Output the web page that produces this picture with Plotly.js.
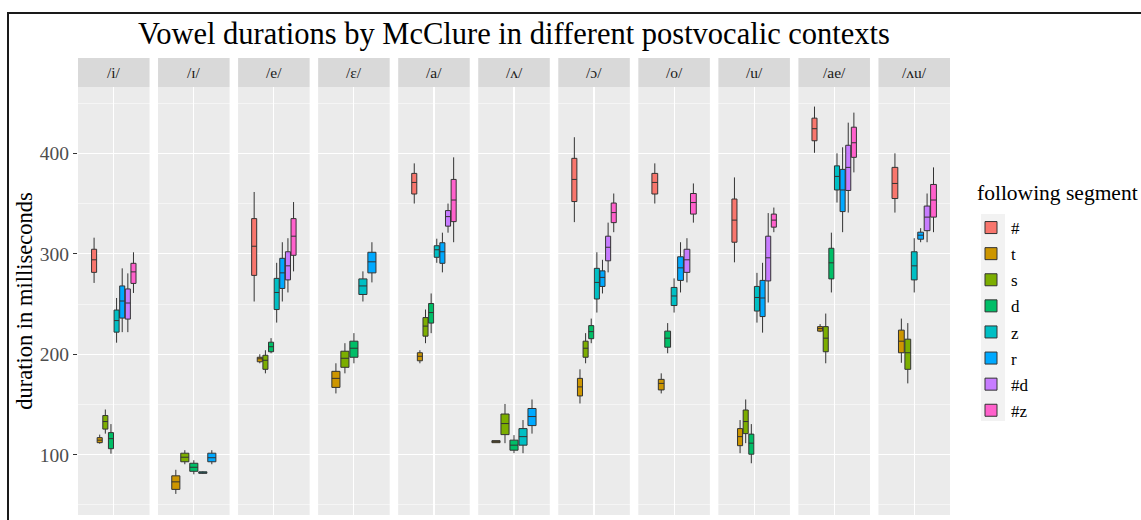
<!DOCTYPE html>
<html>
<head>
<meta charset="utf-8">
<script src="https://cdn.plot.ly/plotly-3.0.1.min.js"></script>
<style>
  html, body { margin: 0; padding: 0; background: #fff; }
  #wrap { position: relative; width: 1141px; height: 520px; overflow: hidden; }
  #chart { width: 1141px; height: 520px; }
  #frame { position: absolute; left: 7px; top: 12px; right: -10px; bottom: -10px;
           border-top: 2px solid #1a1a1a; border-left: 2px solid #1a1a1a; pointer-events: none; }
</style>
</head>
<body>
<div id="wrap"><div id="chart"></div><div id="frame"></div></div>
<script>
// Vowels (one facet each) and the following-segment groups
const vowels = ['/i/', '/ɪ/', '/e/', '/ɛ/', '/a/', '/ʌ/', '/ɔ/', '/o/', '/u/', '/ae/', '/ʌu/'];
const segments = ['#', 't', 's', 'd', 'z', 'r', '#d', '#z'];

// Box statistics in ms, rows = vowels, columns = segments (null = no tokens)
const upperWhisker = [
  [316, 120, 145, 130.5, 256, 285.5, 280.5, 301.5],
  [null, 85, 104.5, 94.5, 83.5, 104.5, null, null],
  [361.5, 200, 204, 216, 291, 311.5, 315.5, 351.5],
  [null, 191, 211, 221, 282.5, 311.5, null, null],
  [390, 204, 244.5, 260.5, 315, 321, 350, 396],
  [null, 114, 150.5, 119.5, 134.5, 155, null, null],
  [416, 185, 221, 235.5, 301.5, 294, 331, 360],
  [390, 181, null, 231, 275.5, 311.5, 315.5, 370],
  [376, 134.5, 155, 130.5, 281, 291, 340.5, 346],
  [446.5, 230, 240.5, 321, 400, 406, 430.5, 440.5],
  [400, 235.5, 231, null, 315.5, 325.5, 360, 386]
];
const boxUpper = [
  [304.5, 117, 139, 122, 244, 268, 265, 290.5],
  [null, 79, 101.5, 91.5, 83, 101.5, null, null],
  [335, 197, 199, 212, 275.5, 295.5, 302, 335],
  [null, 183, 203, 213, 275, 301.5, null, null],
  [380, 201.5, 236.5, 250.5, 308, 311, 343, 374],
  [null, 114, 140.5, 114.5, 126, 146, null, null],
  [395, 176, 213, 228.5, 285.5, 283, 317.5, 350.5],
  [380, 175, null, 223, 266.5, 297, 304.5, 360],
  [354.5, 126, 144.5, 120.5, 267.5, 273.5, 317.5, 339.5],
  [435, 227.5, 227.5, 305.5, 387.5, 384, 408, 426],
  [386, 224, 215, null, 302, 321.5, 347.5, 369]
];
const medians = [
  [294, 114.5, 133, 116, 233.5, 253, 251, 282],
  [null, 73, 97.5, 87.5, 82, 97, null, null],
  [307.5, 195.5, 194, 207.5, 261.5, 281, 288, 317.5],
  [null, 176, 196, 206, 268, 292, null, null],
  [371, 198, 228, 241.5, 304, 302, 337, 353.5],
  [null, 113, 131, 109.5, 118, 138, null, null],
  [374, 167.5, 206, 222.5, 271.5, 276.5, 306.5, 341],
  [371, 171, null, 216, 258, 286, 294, 351],
  [333.5, 118, 133, 111.5, 256.5, 256, 296, 333.5],
  [424.5, 225.5, 216, 291, 377, 363.5, 386, 410.5],
  [370, 213, 201.5, null, 288, 318.5, 336.5, 353.5]
];
const boxLower = [
  [281.5, 112, 125.5, 106, 222, 236, 235, 270.5],
  [null, 65.5, 93, 83.5, 81.5, 93, null, null],
  [278.5, 192.5, 185, 202.5, 244.5, 265.5, 274, 298.5],
  [null, 167, 187, 197, 259.5, 281, null, null],
  [359.5, 193.5, 218, 231, 296.5, 290.5, 327.5, 332],
  [null, 112, 120, 104.5, 109.5, 129, null, null],
  [352, 158.5, 197, 215.5, 255, 267.5, 293, 331],
  [359.5, 164.5, null, 207, 248.5, 273.5, 281.5, 339.5],
  [311.5, 109, 121, 100.5, 243, 237.5, 273, 326.5],
  [412.5, 223, 202.5, 275, 363.5, 342, 363, 396],
  [355, 201.5, 185, null, 274, 314.5, 323, 336.5]
];
const lowerWhisker = [
  [271, 111, 121, 101, 211.5, 222, 222, 261],
  [null, 61, 90.5, 80.5, 81, 90.5, null, null],
  [252.5, 191, 181, 201, 231.5, 252.5, 261.5, 282.5],
  [null, 161, 181, 191, 252.5, 271.5, null, null],
  [350, 191, 211, 221, 291, 281.5, 321, 311.5],
  [null, 112, 111.5, 101.5, 101.5, 121, null, null],
  [331.5, 151, 191, 211, 241.5, 260.5, 281.5, 321.5],
  [350, 161, null, 201, 241.5, 261.5, 271.5, 331],
  [291.5, 101.5, 111.5, 91.5, 231.5, 221.5, 251.5, 321.5],
  [400.5, 222, 191, 261.5, 351, 321.5, 341, 381],
  [341, 191.5, 171, null, 261.5, 311.5, 311.5, 321.5]
];

// ggplot-style hue palette for the eight segments
const segmentColors = ['#F8766D', '#CD9600', '#7CAE00', '#00BE67', '#00BFC4', '#00A9FF', '#C77CFF', '#FF61CC'];

const serif = 'Liberation Serif, Times New Roman, serif';
const nPanels = vowels.length;
const gapFrac = 8.5 / 872;
const panelFrac = (1 - gapFrac * (nPanels - 1)) / nPanels;
const stripFrac = 29 / 428;
const px = v => (515 - v) / 428;   // vertical pixel -> paper fraction
const pxX = v => (v - 78) / 872;   // horizontal pixel -> paper fraction

const traces = [];
const inLegend = {};
const layout = {
  width: 1141, height: 520,
  margin: { l: 78, r: 191, t: 87, b: 5 },
  paper_bgcolor: '#fff',
  plot_bgcolor: '#ebebeb',
  boxmode: 'group', boxgap: 0.245, boxgroupgap: 0.1,
  title: {
    text: 'Vowel durations by McClure in different postvocalic contexts',
    font: { family: serif, size: 30.5, color: '#000' },
    x: 0.5, xref: 'paper', xanchor: 'center',
    y: 1 - 33 / 520, yref: 'container', yanchor: 'middle'
  },
  yaxis: {
    domain: [0, 1], range: [40, 466], tick0: 0, dtick: 100,
    ticks: 'outside', ticklen: 4, tickwidth: 1.1, tickcolor: '#333',
    tickfont: { family: serif, size: 19.5, color: '#4d4d4d' },
    showgrid: true, gridcolor: '#fff', gridwidth: 1.1,
    minor: { tick0: 0, dtick: 50, showgrid: true, gridcolor: '#fff', gridwidth: 0.5 },
    zeroline: false, showline: false, fixedrange: true,
    title: { text: 'duration in milliseconds', font: { family: serif, size: 22.5, color: '#000' }, standoff: 0 }
  },
  legend: {
    font: { family: serif, size: 17, color: '#000' },
    x: pxX(971), xanchor: 'left', y: px(210), yanchor: 'top',
    tracegroupgap: 1, bgcolor: 'rgba(0,0,0,0)'
  },
  shapes: [{
    // light key background behind the legend swatches
    type: 'rect', xref: 'paper', yref: 'paper',
    x0: pxX(981), x1: pxX(1005), y0: px(421), y1: px(214),
    fillcolor: '#f2f2f2', line: { width: 0 }, layer: 'below'
  }],
  annotations: [{
    xref: 'paper', yref: 'paper', x: pxX(975), y: px(193),
    xanchor: 'left', yanchor: 'middle', showarrow: false, text: 'following segment',
    font: { family: serif, size: 21.5, color: '#000' }
  }]
};

vowels.forEach((vowel, i) => {
  const xName = i === 0 ? 'x' : 'x' + (i + 1);
  const axisKey = i === 0 ? 'xaxis' : 'xaxis' + (i + 1);
  const x0 = i * (panelFrac + gapFrac);
  layout[axisKey] = {
    domain: [x0, x0 + panelFrac], anchor: 'y', type: 'category', range: [-0.6, 0.6],
    showticklabels: false, ticks: '', showgrid: true, gridcolor: '#fff', gridwidth: 1.1,
    zeroline: false, showline: false, fixedrange: true
  };
  // facet strip
  layout.shapes.push({
    type: 'rect', xref: xName + ' domain', yref: 'paper',
    x0: 0, x1: 1, y0: 1, y1: 1 + stripFrac,
    fillcolor: '#d9d9d9', line: { width: 0 }, layer: 'above'
  });
  layout.annotations.push({
    xref: xName + ' domain', yref: 'paper', x: 0.5, y: 1 + stripFrac / 2,
    xanchor: 'center', yanchor: 'middle', showarrow: false, text: vowel,
    font: { family: serif, size: 15.5, color: '#1a1a1a' }
  });

  segments.forEach((seg, j) => {
    if (medians[i][j] == null) return;
    traces.push({
      type: 'box', x: [vowel],
      lowerfence: [lowerWhisker[i][j]], q1: [boxLower[i][j]], median: [medians[i][j]],
      q3: [boxUpper[i][j]], upperfence: [upperWhisker[i][j]],
      name: seg, legendgroup: seg, showlegend: !inLegend[seg],
      offsetgroup: seg, alignmentgroup: 'panel' + i,
      xaxis: xName, yaxis: 'y',
      fillcolor: segmentColors[j], line: { color: '#333', width: 1 },
      whiskerwidth: 0, boxpoints: false
    });
    inLegend[seg] = true;
  });
});

Plotly.newPlot('chart', traces, layout, { displayModeBar: false, staticPlot: true });
</script>
</body>
</html>
